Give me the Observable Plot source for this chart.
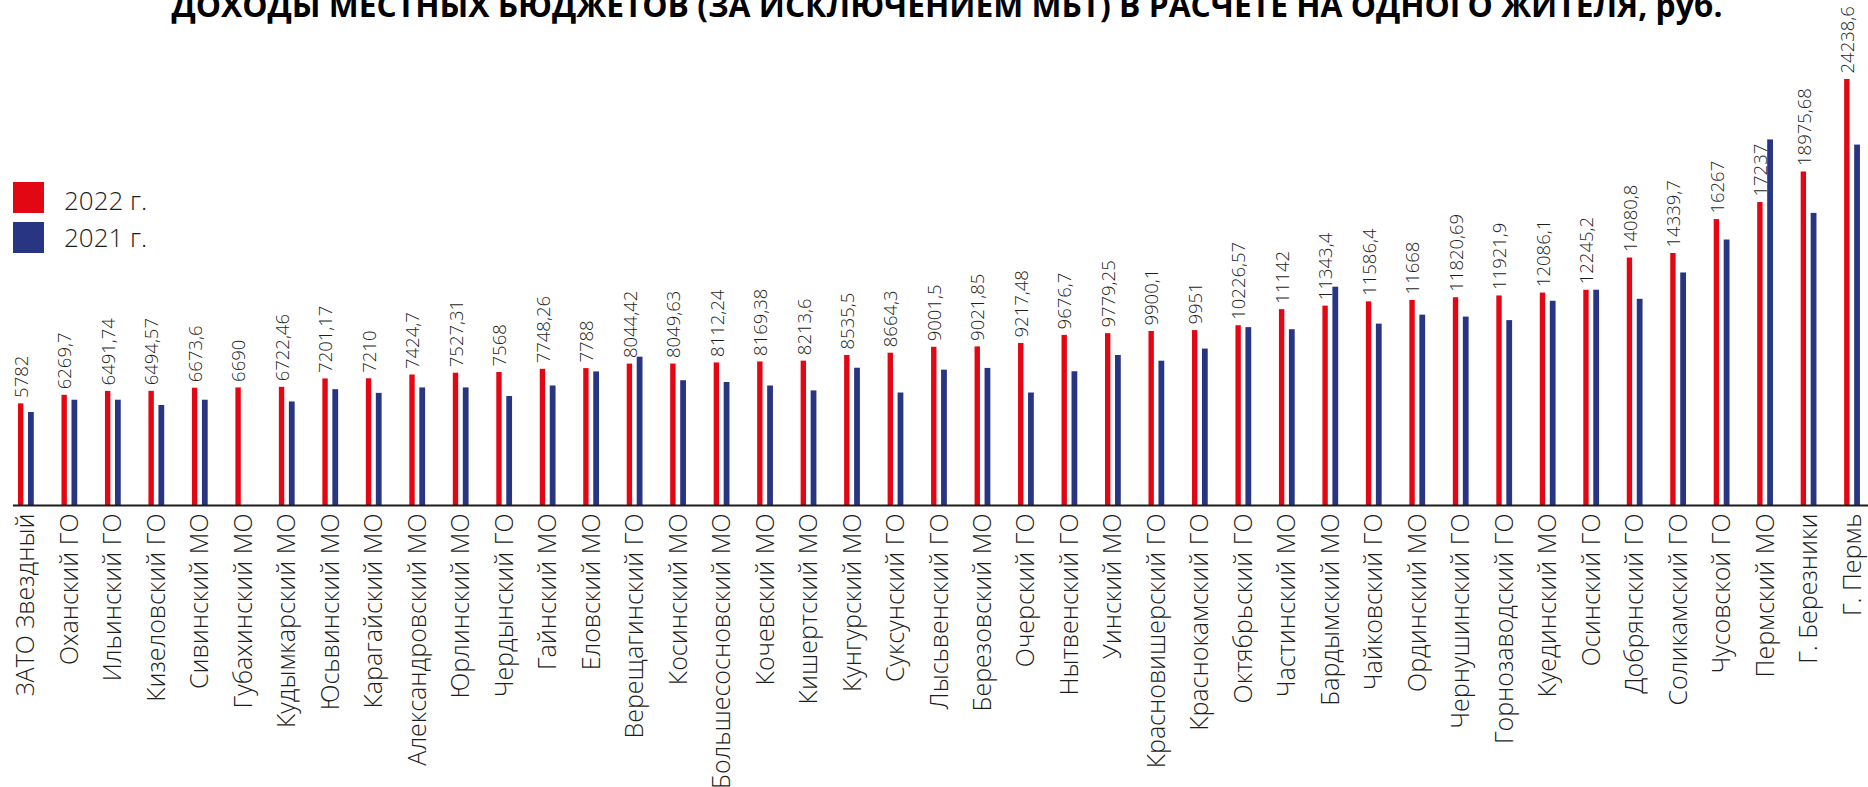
<!DOCTYPE html>
<html>
<head>
<meta charset="utf-8">
<script src="https://cdn.jsdelivr.net/npm/d3@7"></script>
<script src="https://cdn.jsdelivr.net/npm/@observablehq/plot@0.6"></script>
<style>
  html, body { margin: 0; padding: 0; background: #fff; }
  #wrap { position: relative; width: 1868px; height: 787px; overflow: hidden; }
  #chart { position: absolute; left: 0; top: 0; }
  #overlay { position: absolute; left: 0; top: 0; pointer-events: none; }
</style>
</head>
<body>
<div id="wrap">
  <div id="chart"></div>
  <svg id="overlay" width="1868" height="787"></svg>
</div>
<script>
const title = "ДОХОДЫ МЕСТНЫХ БЮДЖЕТОВ (ЗА ИСКЛЮЧЕНИЕМ МБТ) В РАСЧЕТЕ НА ОДНОГО ЖИТЕЛЯ, руб.";
const seriesNames = ["2022 г.", "2021 г."];
const seriesColors = ["#e30613", "#283583"];

const names = ["ЗАТО Звездный","Оханский ГО","Ильинский ГО","Кизеловский ГО","Сивинский МО","Губахинский МО","Кудымкарский МО","Юсьвинский МО","Карагайский МО","Александровский МО","Юрлинский МО","Чердынский ГО","Гайнский МО","Еловский МО","Верещагинский ГО","Косинский МО","Большесосновский МО","Кочевский МО","Кишертский МО","Кунгурский МО","Суксунский ГО","Лысьвенский ГО","Березовский МО","Очерский ГО","Нытвенский ГО","Уинский МО","Красновишерский ГО","Краснокамский ГО","Октябрьский ГО","Частинский МО","Бардымский МО","Чайковский ГО","Ординский МО","Чернушинский ГО","Горнозаводский ГО","Куединский МО","Осинский ГО","Добрянский ГО","Соликамский ГО","Чусовской ГО","Пермский МО","Г. Березники","Г. Пермь"];

const v2022 = [5782, 6269.7, 6491.74, 6494.57, 6673.6, 6690, 6722.46, 7201.17, 7210, 7424.7, 7527.31, 7568, 7748.26, 7788, 8044.42, 8049.63, 8112.24, 8169.38, 8213.6, 8535.5, 8664.3, 9001.5, 9021.85, 9217.48, 9676.7, 9779.25, 9900.1, 9951, 10226.57, 11142, 11343.4, 11586.4, 11668, 11820.69, 11921.9, 12086.1, 12245.2, 14080.8, 14339.7, 16267, 17237, 18975.68, 24238.6];

const v2021 = [5290, 5990, 5990, 5690, 5990, null, 5890, 6590, 6380, 6690, 6690, 6200, 6800, 7600, 8440, 7100, 7000, 6800, 6520, 7810, 6400, 7700, 7800, 6400, 7610, 8535, 8210, 8900, 10120, 10000, 12420, 10320, 10830, 10720, 10520, 11620, 12250, 11730, 13230, 15105, 20800, 16620, 20506];

const data = names.map((n, i) => ({
  name: n,
  v22: v2022[i],
  v21: v2021[i],
  label: String(v2022[i]).replace(".", ",")
}));

const band = 43.48;
const chart = Plot.plot({
  width: 1868,
  height: 787,
  marginLeft: 13,
  marginRight: 0,
  marginTop: 0,
  marginBottom: 282,
  style: { fontFamily: "'Open Sans', sans-serif", background: "transparent" },
  x: { domain: names, range: [4.2, 4.2 + band * names.length], padding: 0, round: false, label: null },
  y: { domain: [0, 25000], range: [505, 65.6], axis: null },
  marks: [
    Plot.barY(data, { x: "name", y: "v22", fill: seriesColors[0], insetLeft: 13.8, insetRight: 24.3 }),
    Plot.barY(data, { x: "name", y: "v21", fill: seriesColors[1], insetLeft: 23.8, insetRight: 13.9 }),
    Plot.ruleY([0], { stroke: "#1d1d1b", strokeWidth: 2 }),
    Plot.text(data, {
      x: "name", y: "v22", text: "label", rotate: -90, textAnchor: "start",
      dx: -4.5, dy: -6, fontSize: 18.5, fontWeight: 300, fill: "#1d1d1b"
    }),
    Plot.axisX({
      tickRotate: -90, tickSize: 0, tickPadding: 8, fontSize: 25,
      fontWeight: 300, fill: "#1d1d1b", label: null
    })
  ]
});
document.getElementById("chart").appendChild(chart);

// Title and legend overlay
const svg = d3.select("#overlay");
const t = svg.append("text")
  .attr("x", 947).attr("y", 17)
  .attr("text-anchor", "middle")
  .attr("font-family", "'Open Sans', sans-serif")
  .attr("font-weight", 700)
  .attr("font-size", 30)
  .attr("fill", "#000")
  .text(title);
const w = t.node().getComputedTextLength();
if (w > 0) t.attr("font-size", 30 * 1552 / w);

const leg = svg.append("g");
seriesNames.forEach((s, i) => {
  leg.append("rect").attr("x", 13).attr("y", 182 + i * 40).attr("width", 31).attr("height", 31).attr("fill", seriesColors[i]);
  leg.append("text").attr("x", 64).attr("y", 210 + i * 37)
    .attr("font-family", "'Open Sans', sans-serif").attr("font-weight", 300)
    .attr("font-size", 26).attr("fill", "#1d1d1b").text(s);
});
</script>
</body>
</html>
